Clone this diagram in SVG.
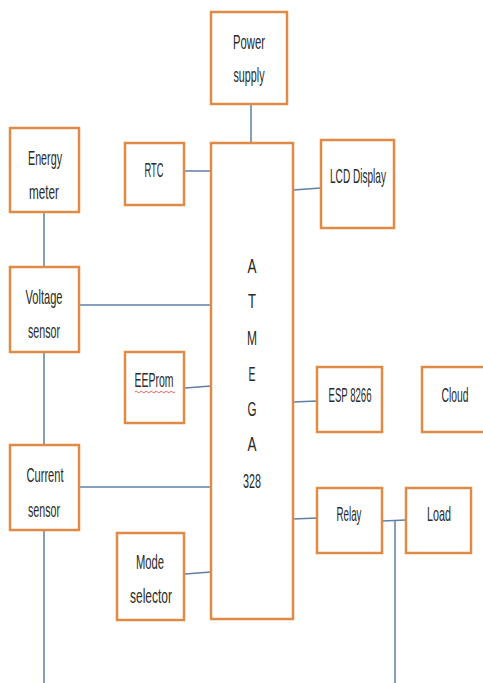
<svg xmlns="http://www.w3.org/2000/svg" width="483" height="683" viewBox="0 0 483 683">
<style>
.box{fill:#fff;stroke:#E08A45;stroke-width:2.5}
.ln{stroke:#5E7FA6;stroke-width:1.5;fill:none}
text{font-family:"Liberation Sans",Arial,sans-serif;font-size:21px;fill:#2a2a2a;text-anchor:middle}
</style>
<rect width="483" height="683" fill="#fff"/>
<g id="connectors">
<line class="ln" x1="251" y1="104" x2="251" y2="143"/>
<line class="ln" x1="185" y1="171" x2="211" y2="171"/>
<line class="ln" x1="293" y1="190" x2="321" y2="188"/>
<line class="ln" x1="44" y1="212" x2="44" y2="267"/>
<line class="ln" x1="79" y1="305" x2="211" y2="305"/>
<line class="ln" x1="44" y1="352" x2="44" y2="445"/>
<line class="ln" x1="185" y1="388" x2="211" y2="386"/>
<line class="ln" x1="293" y1="402" x2="317" y2="401"/>
<line class="ln" x1="79" y1="487" x2="211" y2="487"/>
<line class="ln" x1="44" y1="530" x2="44" y2="683"/>
<line class="ln" x1="185" y1="574" x2="211" y2="572"/>
<line class="ln" x1="293" y1="519" x2="317" y2="518"/>
<line class="ln" x1="382" y1="521" x2="406" y2="520"/>
<line class="ln" x1="395" y1="521" x2="395" y2="683"/>
</g>
<g id="power">
<rect class="box" x="211" y="12" width="76" height="92"/>
<text x="249" y="49" textLength="32" lengthAdjust="spacingAndGlyphs">Power</text>
<text x="249" y="82" textLength="31" lengthAdjust="spacingAndGlyphs">supply</text>
</g>
<g id="atmega">
<rect class="box" x="211" y="143" width="82" height="476"/>
<text x="252" y="273" textLength="9" lengthAdjust="spacingAndGlyphs">A</text>
<text x="252" y="308" textLength="8" lengthAdjust="spacingAndGlyphs">T</text>
<text x="252" y="345" textLength="10" lengthAdjust="spacingAndGlyphs">M</text>
<text x="252" y="381" textLength="7" lengthAdjust="spacingAndGlyphs">E</text>
<text x="252" y="416" textLength="9" lengthAdjust="spacingAndGlyphs">G</text>
<text x="252" y="451" textLength="9" lengthAdjust="spacingAndGlyphs">A</text>
<text x="252" y="488" textLength="18" lengthAdjust="spacingAndGlyphs">328</text>
</g>
<g id="rtc">
<rect class="box" x="125" y="143" width="59" height="62"/>
<text x="154" y="177" textLength="19" lengthAdjust="spacingAndGlyphs">RTC</text>
</g>
<g id="lcd">
<rect class="box" x="321" y="140" width="73" height="88"/>
<text x="358" y="183" textLength="56" lengthAdjust="spacingAndGlyphs">LCD Display</text>
</g>
<g id="energy">
<rect class="box" x="10" y="128" width="69" height="84"/>
<text x="45" y="165" textLength="34" lengthAdjust="spacingAndGlyphs">Energy</text>
<text x="44" y="199" textLength="30" lengthAdjust="spacingAndGlyphs">meter</text>
</g>
<g id="voltage">
<rect class="box" x="10" y="267" width="69" height="85"/>
<text x="44" y="304" textLength="37" lengthAdjust="spacingAndGlyphs">Voltage</text>
<text x="44" y="338" textLength="32" lengthAdjust="spacingAndGlyphs">sensor</text>
</g>
<g id="eeprom">
<rect class="box" x="125" y="352" width="59" height="71"/>
<text x="154" y="387" textLength="39" lengthAdjust="spacingAndGlyphs">EEProm</text>
<path d="M135 392 q1.25 -1.5 2.5 0 t2.5 0 t2.5 0 t2.5 0 t2.5 0 t2.5 0 t2.5 0 t2.5 0 t2.5 0 t2.5 0 t2.5 0 t2.5 0 t2.5 0 t2.5 0 t2.5 0 t2.5 0" fill="none" stroke="#D33" stroke-width="0.8"/>
</g>
<g id="esp">
<rect class="box" x="317" y="367" width="65" height="65"/>
<text x="350" y="402" textLength="43" lengthAdjust="spacingAndGlyphs">ESP 8266</text>
</g>
<g id="cloud">
<rect class="box" x="422" y="367" width="70" height="65"/>
<text x="455" y="402" textLength="27" lengthAdjust="spacingAndGlyphs">Cloud</text>
</g>
<g id="current">
<rect class="box" x="10" y="445" width="69" height="85"/>
<text x="45" y="482" textLength="37" lengthAdjust="spacingAndGlyphs">Current</text>
<text x="44" y="517" textLength="32" lengthAdjust="spacingAndGlyphs">sensor</text>
</g>
<g id="mode">
<rect class="box" x="117" y="533" width="67" height="87"/>
<text x="150" y="569" textLength="28" lengthAdjust="spacingAndGlyphs">Mode</text>
<text x="151" y="603" textLength="42" lengthAdjust="spacingAndGlyphs">selector</text>
</g>
<g id="relay">
<rect class="box" x="317" y="488" width="65" height="65"/>
<text x="349" y="521" textLength="25" lengthAdjust="spacingAndGlyphs">Relay</text>
</g>
<g id="load">
<rect class="box" x="406" y="488" width="65" height="65"/>
<text x="439" y="521" textLength="24" lengthAdjust="spacingAndGlyphs">Load</text>
</g>
</svg>
